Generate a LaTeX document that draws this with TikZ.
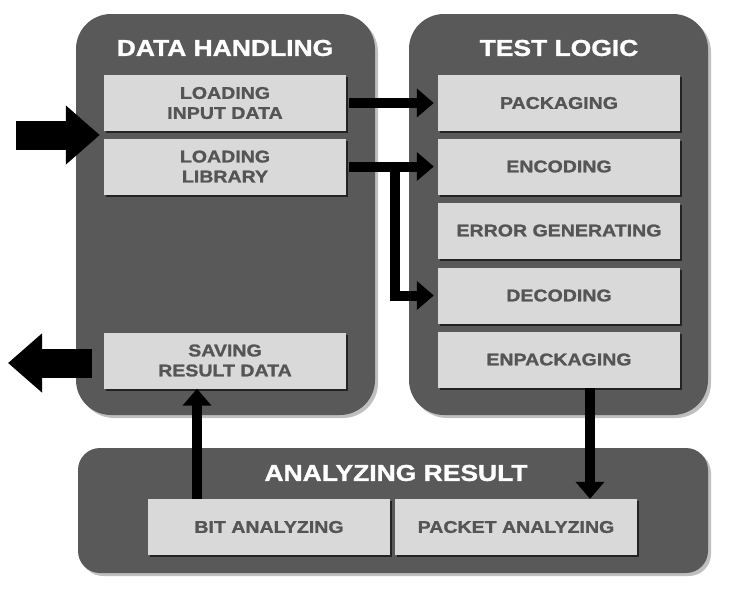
\documentclass[tikz,border=0pt]{standalone}
\usepackage{fontspec}
\setmainfont{Liberation Sans}[FakeStretch=1.15, BoldFeatures={FakeBold=1.3}]
\usetikzlibrary{arrows.meta,shadows,calc}
\definecolor{panelgray}{HTML}{595959}
\definecolor{boxgray}{HTML}{D9D9D9}
\definecolor{txtgray}{HTML}{555555}
\tikzset{
  panel/.style={fill=panelgray, draw=none, rounded corners=35pt, inner sep=0pt,
    drop shadow={shadow xshift=3pt, shadow yshift=-3pt, fill=black, opacity=0.25}},
  box/.style={fill=boxgray, draw=none, minimum width=242pt, minimum height=56pt, inner sep=0pt,
    text=txtgray, font=\bfseries\fontsize{17}{20}\selectfont, align=center,
    drop shadow={shadow xshift=2pt, shadow yshift=-2pt, fill=black, opacity=0.6}},
  title/.style={text=white, font=\bfseries\fontsize{23}{26}\selectfont, inner sep=0pt},
  arr/.style={draw=black, line width=10pt, -{Triangle[width=28pt,length=17pt]}},
  bigarr/.style={draw=black, line width=29pt, -{Triangle[width=57pt,length=34pt]}}
}
\begin{document}
\begin{tikzpicture}[x=1pt,y=-1pt]
\useasboundingbox (0,0) rectangle (737,592);
% panels
\node[panel, minimum width=299pt, minimum height=401pt] (dh) at (225.5,214.5) {};
\node[panel, minimum width=299pt, minimum height=401pt] (tl) at (558.5,214.5) {};
\node[panel, rounded corners=22pt, minimum width=630pt, minimum height=125pt] (ar) at (393,510.5) {};
% titles
\node[title] (dht) at (225,48) {DATA HANDLING};
\node[title] (tlt) at (559,48) {TEST LOGIC};
\node[title] (art) at (396,473) {ANALYZING RESULT};
% boxes
\node[box] (lid) at (225,103) {LOADING\\INPUT DATA};
\node[box] (lib) at (225,166.5) {LOADING\\LIBRARY};
\node[box] (sav) at (225,360.5) {SAVING\\RESULT DATA};
\node[box] (pkg) at (559,103) {PACKAGING};
\node[box] (enc) at (559,166.5) {ENCODING};
\node[box] (err) at (559,230.5) {ERROR GENERATING};
\node[box] (dec) at (559,295.5) {DECODING};
\node[box] (enp) at (559,359.5) {ENPACKAGING};
\node[box] (bit) at (269,527) {BIT ANALYZING};
\node[box] (pkt) at (516,527) {PACKET ANALYZING};
% free ends
\coordinate (inS) at (16,135);
\coordinate (inT) at ($(lid.south west)!0.5!(lib.north west)+(-4,0)$);
\coordinate (outT) at (8,363);
\coordinate (br) at (395,166.5);
% connectors
\draw[bigarr] (inS) -- (inS -| inT);
\draw[bigarr] ([xshift=-12pt]sav.west |- outT) -- (outT);
\draw[arr, shorten <=3pt, shorten >=4pt] (lid.east) -- (pkg.west);
\draw[arr, shorten <=3pt, shorten >=4pt] (lib.east) -- (enc.west);
\draw[arr, shorten >=4pt] ([yshift=5pt]br) |- (dec.west);
\draw[arr] ([xshift=-72pt]bit.north) -- ([xshift=-72pt]bit.north |- sav.south);
\draw[arr] ([xshift=31pt]enp.south) -- ([xshift=31pt]enp.south |- pkt.north);
\end{tikzpicture}
\end{document}
